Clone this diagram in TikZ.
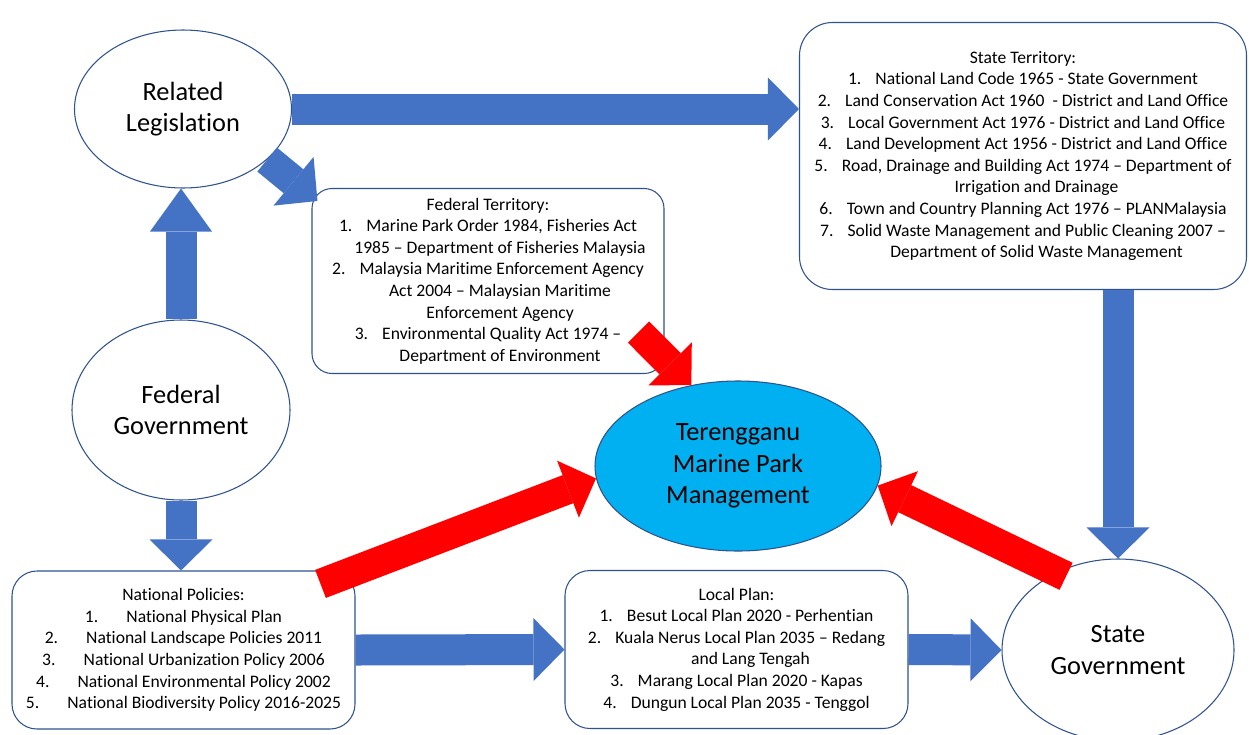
\documentclass[tikz,border=0pt]{standalone}
\usepackage{fontspec}
\setmainfont{Carlito}[Ligatures=NoCommon]
\usetikzlibrary{arrows.meta,positioning,shapes.geometric,calc}
\definecolor{shapeline}{RGB}{47,82,143}
\definecolor{arrowblue}{RGB}{68,114,196}
\definecolor{parkblue}{RGB}{0,176,240}
\newcommand{\itemno}[1]{#1.\hspace{0.8em}}

\begin{document}
\begin{tikzpicture}[x=0.2mm, y=-0.2mm,
    oval/.style={ellipse, draw=shapeline, fill=white, line width=0.6pt, inner sep=0pt,
      align=center, font=\fontsize{15}{18}\selectfont},
    listbox/.style={draw=shapeline, fill=white, line width=0.6pt, rounded corners=0.5cm,
      align=center, inner sep=0pt, font=\fontsize{10}{12.3}\selectfont},
    bluearrow/.style={draw=arrowblue, line width=0.62cm,
      -{Triangle[length=0.62cm, width=1.26cm, line width=0pt]}},
    redarrow/.style={draw=red, line width=0.6cm,
      -{Triangle[length=0.6cm, width=1.22cm, line width=0pt]}}
  ]
    \fill[white, use as bounding box] (0,0) rectangle (1249,734);

    % actors
    \node[oval, minimum width=4.34cm, minimum height=3.16cm] (related) at (183,109)
      {Related\\Legislation};
    \node[oval, minimum width=4.36cm, minimum height=3.6cm] (fedgov) at (181,410)
      {Federal\\Government};
    \node[oval, minimum width=4.64cm, minimum height=3.64cm] (stategov) at (1118,650)
      {State\\Government};
    \node[oval, fill=parkblue, minimum width=5.72cm, minimum height=3.4cm] (park) at (738,466)
      {Terengganu\\Marine Park\\Management};

    % lists
    \node[listbox, rounded corners=0.4cm, minimum width=7.04cm, minimum height=3.7cm] (fedterr) at (488,281)
      {Federal Territory:\\
       \itemno{1}Marine Park Order 1984, Fisheries Act\\
       \hspace*{0.48cm}1985 – Department of Fisheries Malaysia\\
       \itemno{2}Malaysia Maritime Enforcement Agency\\
       \hspace*{0.48cm}Act 2004 – Malaysian Maritime\\
       \hspace*{0.48cm}Enforcement Agency\\
       \itemno{3}Environmental Quality Act 1974 –\\
       \hspace*{0.48cm}Department of Environment};
    \node[listbox, rounded corners=0.66cm, minimum width=8.94cm, minimum height=5.34cm] (stateterr) at (1023,156)
      {State Territory:\\
       \itemno{1}National Land Code 1965 - State Government\\
       \itemno{2}Land Conservation Act 1960 \ - District and Land Office\\
       \itemno{3}Local Government Act 1976 - District and Land Office\\
       \itemno{4}Land Development Act 1956 - District and Land Office\\
       \itemno{5}Road, Drainage and Building Act 1974 – Department of\\
       \hspace*{0.54cm}Irrigation and Drainage\\
       \itemno{6}Town and Country Planning Act 1976 – PLANMalaysia\\
       \itemno{7}Solid Waste Management and Public Cleaning 2007 –\\
       \hspace*{0.54cm}Department of Solid Waste Management};
    \node[listbox, minimum width=6.86cm, minimum height=3.16cm] (natpol) at (183.5,650)
      {National Policies:\\
       1.\hspace{1.6em}National Physical Plan\\
       2.\hspace{1.6em}National Landscape Policies 2011\\
       3.\hspace{1.6em}National Urbanization Policy 2006\\
       4.\hspace{1.6em}National Environmental Policy 2002\\
       5.\hspace{1.6em}National Biodiversity Policy 2016-2025};
    \node[listbox, minimum width=6.86cm, minimum height=3.16cm] (localplan) at (736.5,649.5)
      {Local Plan:\\
       \itemno{1}Besut Local Plan 2020 - Perhentian\\
       \itemno{2}Kuala Nerus Local Plan 2035 – Redang\\
       \hspace*{0.56cm}and Lang Tengah\\
       \itemno{3}Marang Local Plan 2020 - Kapas\\
       \itemno{4}Dungun Local Plan 2035 - Tenggol};

    % blue links
    \draw[bluearrow] (related.east) -- (related.east -| stateterr.west);
    \draw[bluearrow] (related.-31) -- ($(fedterr.north west)+(6,13)$);
    \draw[bluearrow, -{Triangle[length=0.86cm, width=1.24cm, line width=0pt]}]
      (fedgov.north) -- (fedgov.north |- related.south);
    \draw[bluearrow] (fedgov.south) -- (fedgov.south |- natpol.north);
    \draw[bluearrow] (natpol.east) -- (localplan.west);
    \draw[bluearrow] (localplan.east) -- (stategov.west);
    \draw[bluearrow] (stateterr.south -| stategov.north) -- (stategov.north);

    % red links into the park
    \draw[redarrow] ($(fedterr.south east)+(-26,-42)$) -- (park.120);
    \draw[redarrow, shorten <=-0.75cm] (natpol.north east) -- (park.185);
    \draw[redarrow, shorten <=-0.2cm] (stategov.128) -- (park.-8);
  \end{tikzpicture}
\end{document}
